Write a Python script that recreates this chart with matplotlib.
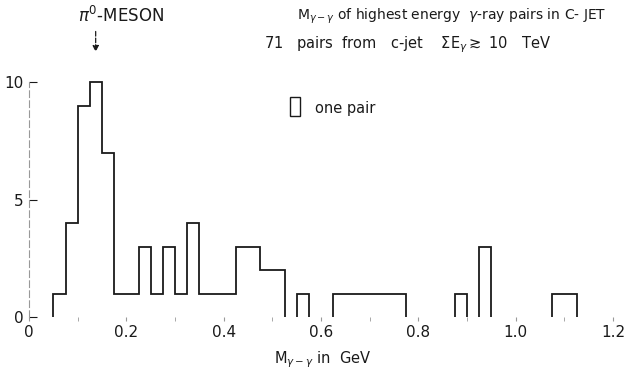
import numpy as np
import matplotlib
matplotlib.use("Agg")
import matplotlib.pyplot as plt

# histogram of M(gamma-gamma), bins of 0.025 GeV starting at 0.05 GeV
bin_edges = np.round(0.05 + 0.025 * np.arange(44), 3)
counts = [1, 4, 9, 10, 7, 1, 1, 3, 1, 3, 1, 4, 1, 1, 1, 3, 3, 2, 2, 0,
          1, 0, 0, 1, 1, 1, 1, 1, 1, 0, 0, 0, 0, 1, 0, 3, 0, 0, 0, 0,
          0, 1, 1]
x_ticks = [0, 0.2, 0.4, 0.6, 0.8, 1.0, 1.2]
x_tick_labels = ["0", "0.2", "0.4", "0.6", "0.8", "1.0", "1.2"]
y_ticks = [0, 5, 10]

plt.rcParams['font.family'] = ['DejaVu Sans']
ink = '#1a1a1a'

fig = plt.figure(figsize=(6.27, 3.70), dpi=100)
ax = fig.add_axes([29 / 627, 1 - 317 / 370, (613 - 29) / 627, (317 - 82) / 370])

# draw each run of non-empty bins as its own outline (no baseline between runs)
counts_arr = np.array(counts)
i = 0
while i < len(counts_arr):
    if counts_arr[i] == 0:
        i += 1
        continue
    j = i
    while j < len(counts_arr) and counts_arr[j] > 0:
        j += 1
    ax.stairs(counts_arr[i:j], bin_edges[i:j + 1], baseline=0, color=ink,
              lw=1.3, clip_on=False)
    i = j

ax.set_xlim(0, 1.2)
ax.set_ylim(0, 10)
for s in ['top', 'right', 'bottom']:
    ax.spines[s].set_visible(False)
ax.spines['left'].set_linestyle((0, (6, 3)))
ax.spines['left'].set_color('#999999')
ax.spines['left'].set_linewidth(0.8)

ax.set_xticks(x_ticks)
ax.set_xticklabels(x_tick_labels)
ax.set_xticks(np.arange(0.1, 1.2, 0.2), minor=True)
ax.tick_params(axis='x', which='both', direction='out', length=3, color='#999999',
               labelsize=11, labelcolor=ink, pad=3)
ax.set_yticks(y_ticks)
ax.set_yticklabels([str(v) for v in y_ticks])
ax.tick_params(axis='y', direction='in', length=6, color=ink, labelsize=11,
               labelcolor=ink, pad=4)

# pi0 marker
ax.annotate('', xy=(0.137, 11.28), xytext=(0.137, 12.15), xycoords='data',
            arrowprops=dict(arrowstyle='-|>', color=ink, lw=0.9, linestyle='--',
                            mutation_scale=9, shrinkA=0, shrinkB=0),
            annotation_clip=False)
fig.text(121 / 627, 1 - 16 / 370, r'$\pi^0$-MESON', ha='center', va='center',
         fontsize=12, color=ink)

fig.text(452 / 627, 1 - 16 / 370,
         r'M$_{\gamma-\gamma}$ of highest energy  $\gamma$-ray pairs in C- JET',
         ha='center', va='center', fontsize=10, color=ink)
fig.text(407 / 627, 1 - 45 / 370,
         r'71   pairs  from   c-jet    $\Sigma$E$_\gamma$$\gtrsim$ 10   TeV',
         ha='center', va='center', fontsize=10.5, color=ink)

# legend box: one pair
ax.add_patch(plt.Rectangle((290 / 627, 1 - 116 / 370), 10 / 627, 19 / 370,
                           transform=fig.transFigure, fill=False, ec=ink,
                           lw=1.0, clip_on=False))
fig.text(315 / 627, 1 - 108 / 370, 'one pair', ha='left', va='center',
         fontsize=10.5, color=ink)

fig.text(323 / 627, 1 - 360 / 370, r'M$_{\gamma-\gamma}$ in  GeV',
         ha='center', va='center', fontsize=10.5, color=ink)

fig.savefig('out.png', dpi=100, facecolor='white')
